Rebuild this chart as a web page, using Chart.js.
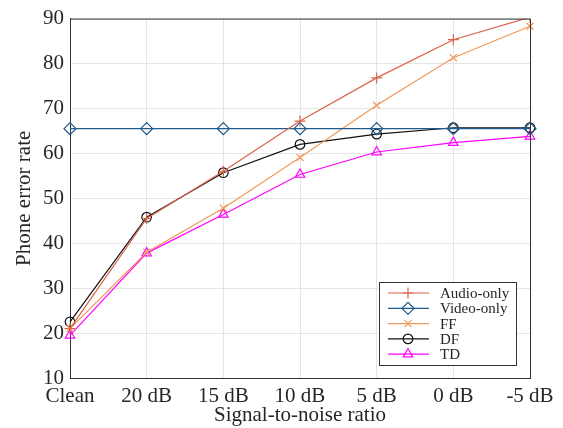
<!DOCTYPE html>
<html>
<head>
<meta charset="utf-8">
<script src="https://cdn.jsdelivr.net/npm/chart.js@4.4.1/dist/chart.umd.min.js"></script>
<style>
  html, body { margin: 0; padding: 0; background: #fff; }
  #wrap { width: 563px; height: 428px; }
</style>
</head>
<body>
<div id="wrap"><canvas id="chart"></canvas></div>
<script>
// ---- data ----
const snrLabels = ['Clean', '20 dB', '15 dB', '10 dB', '5 dB', '0 dB', '-5 dB'];
const audioOnly = [21.0, 45.5, 56.0, 67.2, 76.8, 85.3, 90.3];
const videoOnly = [65.5, 65.5, 65.5, 65.5, 65.5, 65.5, 65.5];
const ffFusion  = [21.0, 38.0, 47.8, 59.1, 70.7, 81.3, 88.3];
const dfFusion  = [22.5, 45.8, 55.7, 62.0, 64.3, 65.7, 65.7];
const tdFusion  = [19.5, 37.8, 46.4, 55.3, 60.3, 62.4, 63.8];

const FONT = "'Liberation Serif', 'DejaVu Serif', serif";
const TEXT = '#262626';

function series(label, data, color, style, r) {
  return {
    label, data,
    borderColor: color,
    backgroundColor: 'transparent',
    borderWidth: 1.2,
    pointStyle: style,
    pointRadius: r,
    pointHoverRadius: r,
    pointBorderColor: color,
    pointBackgroundColor: 'transparent',
    pointBorderWidth: 1.2,
    tension: 0
  };
}

// legend box inside the axes, bottom right (matlab style)
const boxLegend = {
  id: 'boxLegend',
  afterDraw(chart) {
    const ctx = chart.ctx;
    const a = chart.chartArea;
    // frame: top and right borders
    ctx.save();
    ctx.strokeStyle = '#333';
    ctx.lineWidth = 1;
    ctx.beginPath();
    ctx.moveTo(a.left, a.top + 0.5);
    ctx.lineTo(a.right + 0.5, a.top + 0.5);
    ctx.lineTo(a.right + 0.5, a.bottom);
    ctx.stroke();

    const x0 = a.right - 151, y0 = a.bottom - 96, w = 137, h = 83;
    ctx.fillStyle = '#fff';
    ctx.fillRect(x0, y0, w, h);
    ctx.strokeStyle = '#333';
    ctx.strokeRect(x0 + 0.5, y0 + 0.5, w, h);
    ctx.textBaseline = 'middle';
    chart.data.datasets.forEach((ds, i) => {
      const y = y0 + 11 + i * 15.3;
      ctx.strokeStyle = ds.borderColor;
      ctx.lineWidth = 1.2;
      ctx.beginPath();
      ctx.moveTo(x0 + 9, y);
      ctx.lineTo(x0 + 50, y);
      ctx.stroke();
      ctx.fillStyle = 'rgba(0,0,0,0)';
      Chart.helpers.drawPoint(ctx, {
        pointStyle: ds.pointStyle, radius: ds.pointRadius, rotation: 0, borderWidth: 1.2
      }, x0 + 29, y);
      ctx.font = '15px ' + FONT;
      ctx.fillStyle = TEXT;
      ctx.fillText(ds.label, x0 + 61, y + 1);
    });
    ctx.restore();
  }
};

new Chart(document.getElementById('chart'), {
  type: 'line',
  data: {
    labels: snrLabels,
    datasets: [
      series('Audio-only', audioOnly, '#d9634a', 'cross', 5.5),
      series('Video-only', videoOnly, '#1f5a8c', 'rectRot', 6),
      series('FF', ffFusion, '#f0995a', 'crossRot', 5),
      series('DF', dfFusion, '#111111', 'circle', 4.8),
      series('TD', tdFusion, '#ff00ff', 'triangle', 5.5)
    ]
  },
  options: {
    responsive: true,
    maintainAspectRatio: false,
    animation: false,
    layout: { padding: { top: 15, right: 33, left: 0, bottom: 0 } },
    plugins: {
      legend: { display: false },
      tooltip: { enabled: false }
    },
    scales: {
      x: {
        type: 'category',
        offset: false,
        grid: { color: '#e6e6e6', drawTicks: false },
        border: { color: '#333' },
        ticks: { color: TEXT, font: { family: FONT, size: 21 }, padding: 6, maxRotation: 0, autoSkip: false },
        title: { display: true, text: 'Signal-to-noise ratio', color: TEXT, font: { family: FONT, size: 21 }, padding: { top: -7, bottom: 0 } },
        afterFit(scale) { scale.height = 50; }
      },
      y: {
        min: 10, max: 90,
        grid: { color: '#e6e6e6', drawTicks: false },
        border: { color: '#333' },
        ticks: { stepSize: 10, color: TEXT, font: { family: FONT, size: 21 }, padding: 6 },
        title: { display: true, text: 'Phone error rate', color: TEXT, font: { family: FONT, size: 21 }, padding: { top: 12, bottom: 0 } },
        afterFit(scale) { scale.width = 70; }
      }
    }
  },
  plugins: [boxLegend]
});
</script>
</body>
</html>
